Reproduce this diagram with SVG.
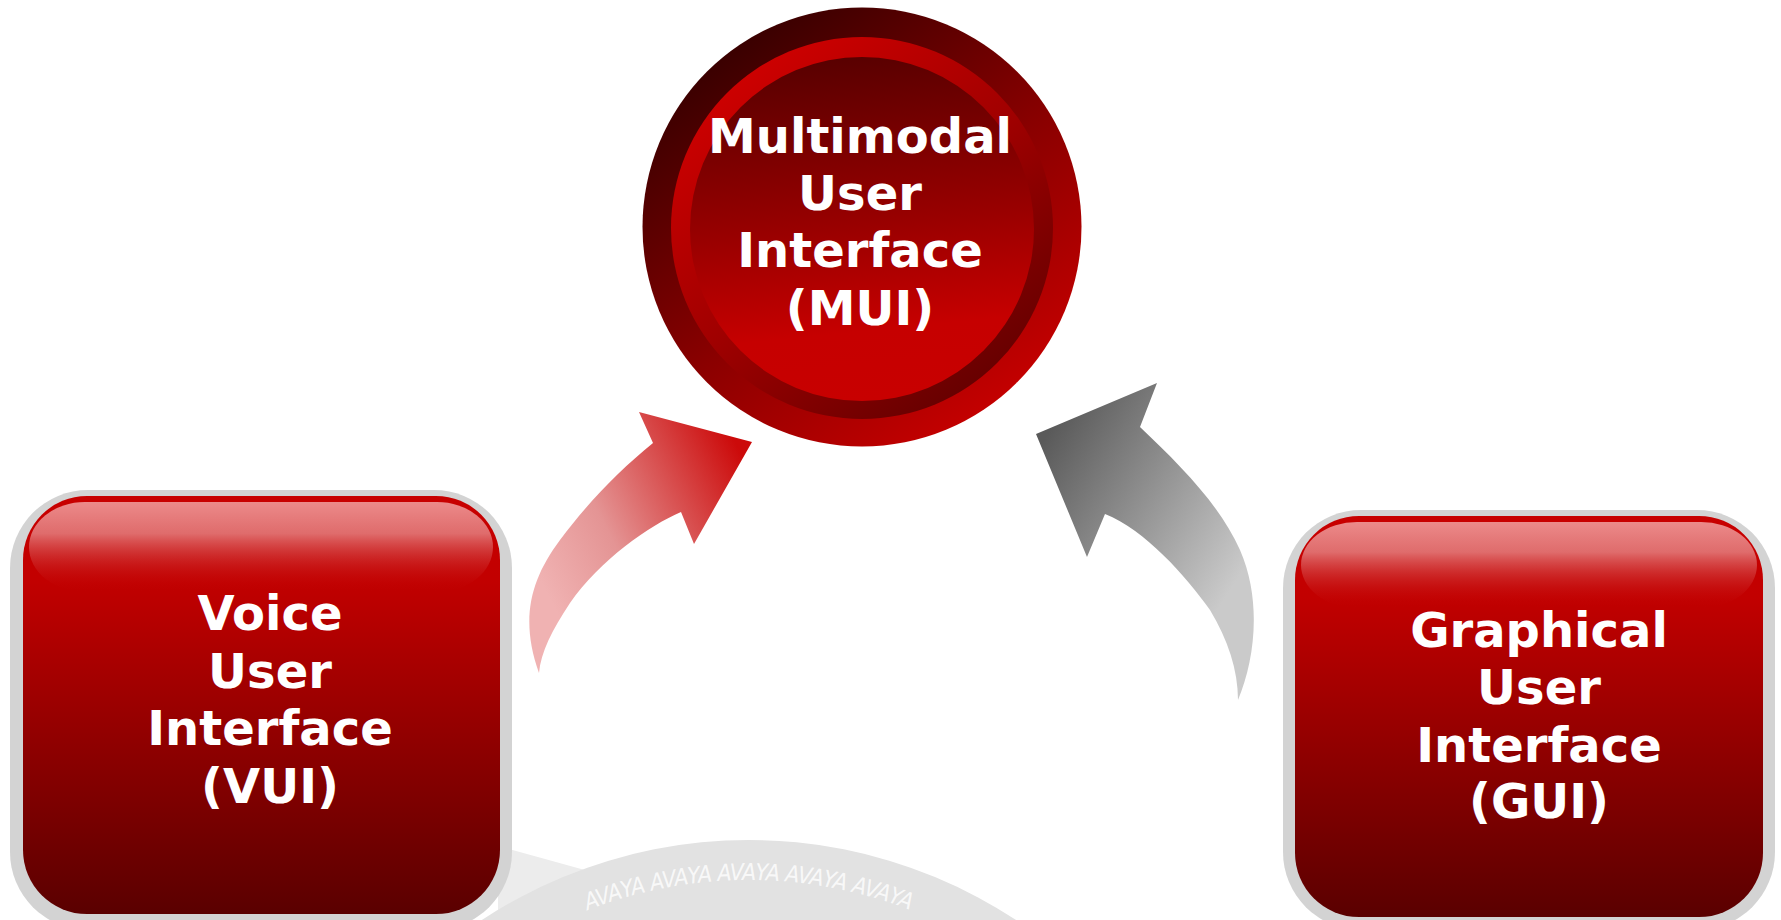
<svg xmlns="http://www.w3.org/2000/svg" width="1781" height="920" viewBox="0 0 1781 920">
  <defs>
    <linearGradient id="gOuter" x1="0.15" y1="0.05" x2="0.8" y2="0.95">
      <stop offset="0" stop-color="#300000"/>
      <stop offset="0.55" stop-color="#8a0000"/>
      <stop offset="1" stop-color="#c80000"/>
    </linearGradient>
    <linearGradient id="gRing" x1="0.2" y1="0.1" x2="0.8" y2="0.9">
      <stop offset="0" stop-color="#cc0000"/>
      <stop offset="0.5" stop-color="#a00000"/>
      <stop offset="1" stop-color="#680000"/>
    </linearGradient>
    <linearGradient id="gInner" x1="0.4" y1="0" x2="0.5" y2="1">
      <stop offset="0" stop-color="#580000"/>
      <stop offset="0.5" stop-color="#9a0000"/>
      <stop offset="0.8" stop-color="#c60000"/>
      <stop offset="1" stop-color="#c80000"/>
    </linearGradient>
    <linearGradient id="gBox" x1="0" y1="0" x2="0" y2="1">
      <stop offset="0" stop-color="#c80000"/>
      <stop offset="0.2" stop-color="#c20000"/>
      <stop offset="1" stop-color="#5a0000"/>
    </linearGradient>
    <linearGradient id="gGloss" x1="0" y1="0" x2="0" y2="1">
      <stop offset="0" stop-color="#f09a9a" stop-opacity="0.9"/>
      <stop offset="0.35" stop-color="#e89090" stop-opacity="0.75"/>
      <stop offset="1" stop-color="#c00000" stop-opacity="0"/>
    </linearGradient>
    <linearGradient id="gArrowL" gradientUnits="userSpaceOnUse" x1="540" y1="580" x2="750" y2="470">
      <stop offset="0" stop-color="#f0b2b2"/>
      <stop offset="0.35" stop-color="#e49494"/>
      <stop offset="1" stop-color="#cc0a0a"/>
    </linearGradient>
    <linearGradient id="gArrowR" gradientUnits="userSpaceOnUse" x1="1050" y1="430" x2="1250" y2="560">
      <stop offset="0" stop-color="#5a5a5a"/>
      <stop offset="1" stop-color="#cacaca"/>
    </linearGradient>
    <path id="arcText" d="M462.3,984.3 A446,446 0 0 1 1035.7,984.3"/>
    <style>
      .lbl { font-family: "DejaVu Sans", Verdana, sans-serif; font-weight: bold; font-size: 48px; fill: #ffffff; text-anchor: middle; }
      .frame { fill: #d3d3d3; }
      .box { fill: url(#gBox); }
      .gloss { fill: url(#gGloss); }
      .wm { font-family: "DejaVu Sans Condensed", "DejaVu Sans", sans-serif; font-style: italic; font-size: 23px; fill: #ffffff; fill-opacity: 0.8; }
    </style>
  </defs>

  <rect width="1781" height="920" fill="#ffffff"/>

  <!-- background dome watermark -->
  <g id="backdrop">
    <path d="M498,846 L592,872 L565,920 L498,920 Z" fill="#ececec"/>
    <circle cx="749" cy="1326" r="486" fill="#e2e2e2"/>
    <text class="wm"><textPath href="#arcText" startOffset="146" textLength="330" lengthAdjust="spacing">AVAYA AVAYA AVAYA AVAYA AVAYA</textPath></text>
  </g>

  <!-- connectors -->
  <g id="connectors">
    <path id="arrow-vui-mui" fill="url(#gArrowL)" d="M539,673 C520,620 530,580 560,540 C590,500 620,470 653,443 L639,412 L752,442 L694,544 L681,512 C650,525 600,560 570,603 C552,630 541,652 539,673 Z"/>
    <path id="arrow-gui-mui" fill="url(#gArrowR)" d="M1238,700 C1255,660 1262,600 1240,550 C1220,505 1180,465 1140,427 L1157,383 L1036,434 L1087,557 L1105,514 C1145,530 1185,575 1210,610 C1228,640 1238,670 1238,700 Z"/>
  </g>

  <!-- MUI node -->
  <g id="node-mui">
    <circle cx="862" cy="227" r="219.5" fill="url(#gOuter)"/>
    <circle cx="862" cy="228" r="191" fill="url(#gRing)"/>
    <circle cx="862" cy="229" r="172" fill="url(#gInner)"/>
    <text class="lbl" x="860" y="153">Multimodal</text>
    <text class="lbl" x="860" y="210">User</text>
    <text class="lbl" x="860" y="267">Interface</text>
    <text class="lbl" x="860" y="325">(MUI)</text>
  </g>

  <!-- VUI node -->
  <g id="node-vui">
    <rect class="frame" x="10" y="490" width="502" height="440" rx="78" ry="78"/>
    <rect class="box" x="23" y="496" width="477" height="418" rx="64" ry="64"/>
    <rect class="gloss" x="29" y="502" width="464" height="90" rx="56" ry="45"/>
    <text class="lbl" x="270" y="630">Voice</text>
    <text class="lbl" x="270" y="688">User</text>
    <text class="lbl" x="270" y="745">Interface</text>
    <text class="lbl" x="270" y="803">(VUI)</text>
  </g>

  <!-- GUI node -->
  <g id="node-gui">
    <rect class="frame" x="1283" y="510" width="492" height="420" rx="78" ry="78"/>
    <rect class="box" x="1295" y="516" width="468" height="401" rx="64" ry="64"/>
    <rect class="gloss" x="1301" y="522" width="456" height="86" rx="56" ry="43"/>
    <text class="lbl" x="1539" y="647">Graphical</text>
    <text class="lbl" x="1539" y="704">User</text>
    <text class="lbl" x="1539" y="762">Interface</text>
    <text class="lbl" x="1539" y="818">(GUI)</text>
  </g>
</svg>
